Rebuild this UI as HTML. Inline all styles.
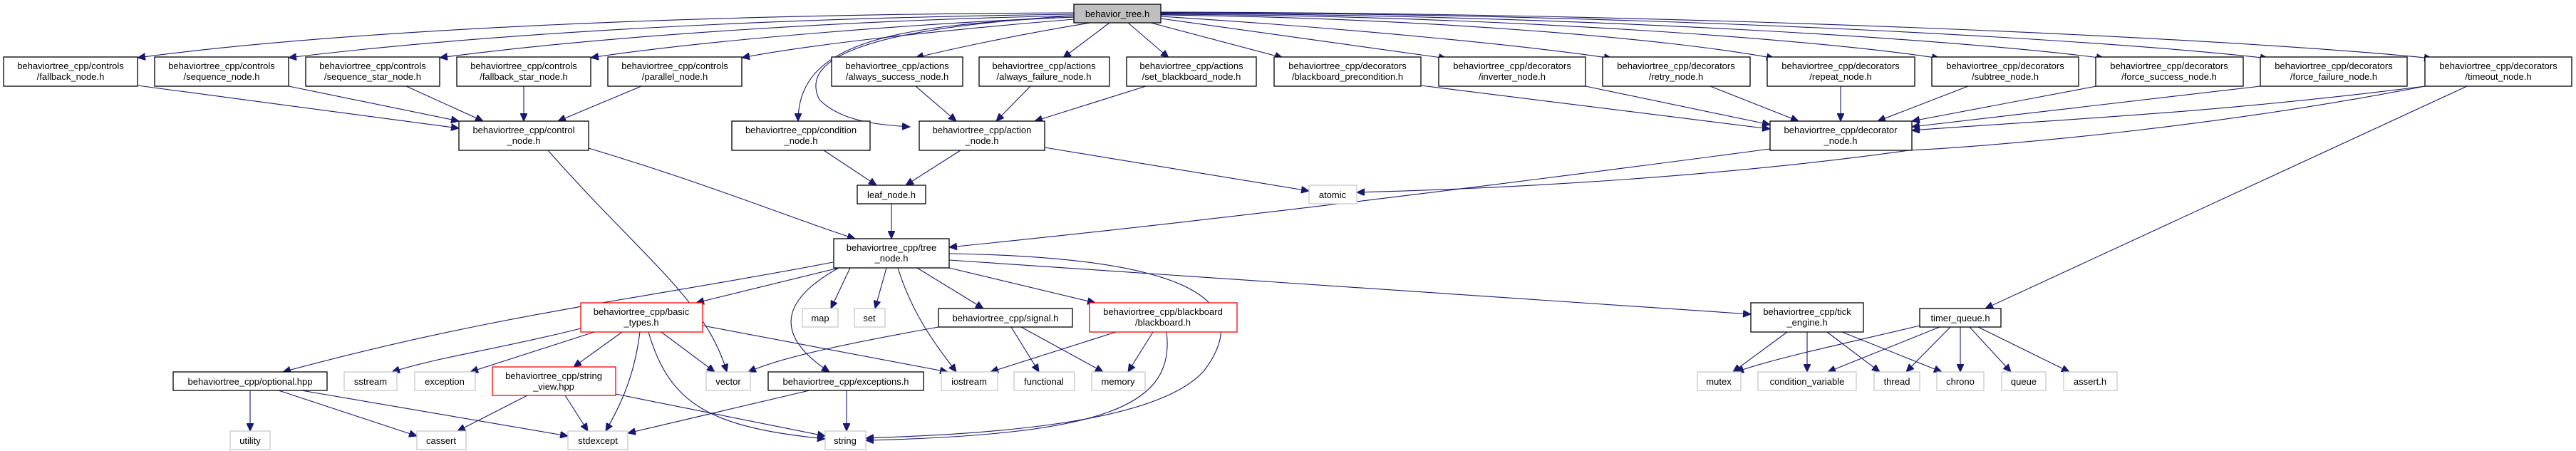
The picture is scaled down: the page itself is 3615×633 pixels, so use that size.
<!DOCTYPE html>
<html><head><meta charset="utf-8"><style>
html,body{margin:0;padding:0;background:#fff;}
svg{display:block;}
text{font-family:"Liberation Sans",sans-serif;font-size:13px;fill:#000;text-anchor:middle;}
.n{fill:#fff;stroke:#000;stroke-width:1.3;}
.g{fill:#fff;stroke:#c8c8c8;stroke-width:1.3;}
.r{fill:#fff;stroke:#ff0000;stroke-width:1.3;}
.e{fill:none;stroke:#191970;stroke-width:1.1;marker-end:url(#a);}
</style></head><body>
<svg width="3615" height="633" viewBox="0 0 3615 633" xmlns="http://www.w3.org/2000/svg">
<defs><marker id="a" markerUnits="userSpaceOnUse" markerWidth="12" markerHeight="10" refX="11" refY="5" orient="auto"><path d="M0,0 L11,5 L0,10 z" fill="#191970" stroke="#191970"/></marker></defs>

<!-- edges from behavior_tree.h -->
<path class="e" d="M1507,18 C1000,20 500,40 193,81"/>
<path class="e" d="M1507,20 C1100,25 700,45 405,81"/>
<path class="e" d="M1507,22 C1200,28 850,50 617,81"/>
<path class="e" d="M1507,24 C1300,32 1000,55 829,81"/>
<path class="e" d="M1507,27 C1350,40 1150,60 1041,81"/>
<path class="e" d="M1530,32 C1420,50 1330,70 1285,81"/>
<path class="e" d="M1557,32 L1492,81"/>
<path class="e" d="M1583,32 L1640,81"/>
<path class="e" d="M1615,32 L1800,81"/>
<path class="e" d="M1629,26 L2030,82"/>
<path class="e" d="M1629,23 C1900,40 2150,65 2262,82"/>
<path class="e" d="M1629,21 C2000,25 2350,55 2490,82"/>
<path class="e" d="M1629,20 C2100,22 2550,55 2722,82"/>
<path class="e" d="M1629,19 C2200,20 2750,55 2953,82"/>
<path class="e" d="M1629,18 C2300,18 2950,55 3183,82"/>
<path class="e" d="M1629,17 C2400,18 3150,55 3413,82"/>
<path class="e" d="M1507,24 C1250,35 1120,60 1120,170"/>
<path class="e" d="M1507,22 C1220,40 1120,80 1150,140 C1180,170 1230,175 1277,178"/>

<!-- top row to second row -->
<path class="e" d="M193,120 L644,180"/>
<path class="e" d="M405,121 L644,170"/>
<path class="e" d="M570,121 L678,170"/>
<path class="e" d="M735,121 L735,170"/>
<path class="e" d="M900,121 L783,170"/>
<path class="e" d="M1285,121 L1342,170"/>
<path class="e" d="M1446,121 L1398,170"/>
<path class="e" d="M1608,121 L1452,170"/>
<path class="e" d="M1994,120 L2484,181"/>
<path class="e" d="M2225,121 L2484,175"/>
<path class="e" d="M2400,121 L2524,170"/>
<path class="e" d="M2583,121 L2583,170"/>
<path class="e" d="M2762,121 L2635,170"/>
<path class="e" d="M2942,121 L2683,170"/>
<path class="e" d="M3172,121 L2683,178"/>
<path class="e" d="M3403,121 C3100,160 2850,170 2683,183"/>
<path class="e" d="M3403,121 C3100,180 2800,205 2679,211 C2400,250 2100,265 1904,270"/>
<path class="e" d="M3462,121 L2786,433"/>
<path class="e" d="M2484,209 C2100,260 1700,310 1332,347"/>

<!-- second row -->
<path class="e" d="M1348,211 L1271,260"/>
<path class="e" d="M1156,211 L1230,260"/>
<path class="e" d="M1466,207 L1837,268"/>
<path class="e" d="M1251,286 L1251,335"/>
<path class="e" d="M826,208 C1000,260 1120,310 1200,335"/>
<path class="e" d="M769,211 C900,360 990,420 1020,522"/>

<!-- tree_node -->
<path class="e" d="M1169,368 C900,420 700,440 397,522"/>
<path class="e" d="M1177,376 L977,425"/>
<path class="e" d="M1177,376 C1080,430 1100,480 1164,522"/>
<path class="e" d="M1193,376 L1166,433"/>
<path class="e" d="M1244,376 L1228,433"/>
<path class="e" d="M1260,376 C1280,440 1310,480 1342,522"/>
<path class="e" d="M1287,376 L1380,433"/>
<path class="e" d="M1332,376 L1537,425"/>
<path class="e" d="M1332,356 C1600,360 1780,400 1690,520 C1620,600 1350,610 1215,615"/>
<path class="e" d="M1332,365 L2457,441"/>

<!-- basic_types -->
<path class="e" d="M815,461 C700,490 620,500 550,522"/>
<path class="e" d="M834,466 L660,522"/>
<path class="e" d="M873,466 L805,515"/>
<path class="e" d="M898,466 C890,530 870,570 850,605"/>
<path class="e" d="M910,466 C940,570 1000,600 1158,616"/>
<path class="e" d="M928,466 L1003,522"/>
<path class="e" d="M986,457 L1330,522"/>

<!-- string_view / optional / exceptions -->
<path class="e" d="M740,555 L642,605"/>
<path class="e" d="M793,555 L825,605"/>
<path class="e" d="M864,553 L1158,612"/>
<path class="e" d="M351,548 L351,605"/>
<path class="e" d="M391,548 L585,612"/>
<path class="e" d="M423,548 L797,612"/>
<path class="e" d="M1188,548 L1188,605"/>
<path class="e" d="M1136,548 L881,608"/>

<!-- signal / blackboard -->
<path class="e" d="M1317,459 C1200,480 1100,500 1050,522"/>
<path class="e" d="M1419,459 L1458,522"/>
<path class="e" d="M1433,459 L1548,522"/>
<path class="e" d="M1566,466 L1390,522"/>
<path class="e" d="M1618,466 L1583,522"/>
<path class="e" d="M1637,466 C1650,570 1550,610 1215,618"/>

<!-- tick_engine / timer_queue -->
<path class="e" d="M2508,466 L2432,522"/>
<path class="e" d="M2536,466 L2536,522"/>
<path class="e" d="M2564,466 L2638,522"/>
<path class="e" d="M2585,466 L2725,522"/>
<path class="e" d="M2694,457 C2600,480 2500,500 2436,522"/>
<path class="e" d="M2722,459 L2565,522"/>
<path class="e" d="M2737,459 L2675,522"/>
<path class="e" d="M2751,459 L2751,522"/>
<path class="e" d="M2764,459 L2822,522"/>
<path class="e" d="M2776,459 L2904,522"/>

<!-- nodes -->
<rect x="1507" y="6" width="122" height="26" fill="#bfbfbf" stroke="#000" stroke-width="1.3"/><text x="1568" y="24">behavior_tree.h</text>

<rect class="n" x="5" y="80" width="188" height="41"/><text x="99" y="97">behaviortree_cpp/controls</text><text x="99" y="112">/fallback_node.h</text>
<rect class="n" x="217" y="80" width="188" height="41"/><text x="311" y="97">behaviortree_cpp/controls</text><text x="311" y="112">/sequence_node.h</text>
<rect class="n" x="429" y="80" width="188" height="41"/><text x="523" y="97">behaviortree_cpp/controls</text><text x="523" y="112">/sequence_star_node.h</text>
<rect class="n" x="641" y="80" width="188" height="41"/><text x="735" y="97">behaviortree_cpp/controls</text><text x="735" y="112">/fallback_star_node.h</text>
<rect class="n" x="853" y="80" width="188" height="41"/><text x="947" y="97">behaviortree_cpp/controls</text><text x="947" y="112">/parallel_node.h</text>
<rect class="n" x="1167" y="80" width="184" height="41"/><text x="1259" y="97">behaviortree_cpp/actions</text><text x="1259" y="112">/always_success_node.h</text>
<rect class="n" x="1374" y="80" width="183" height="41"/><text x="1465" y="97">behaviortree_cpp/actions</text><text x="1465" y="112">/always_failure_node.h</text>
<rect class="n" x="1581" y="80" width="182" height="41"/><text x="1672" y="97">behaviortree_cpp/actions</text><text x="1672" y="112">/set_blackboard_node.h</text>
<rect class="n" x="1788" y="80" width="206" height="41"/><text x="1891" y="97">behaviortree_cpp/decorators</text><text x="1891" y="112">/blackboard_precondition.h</text>
<rect class="n" x="2019" y="80" width="206" height="41"/><text x="2122" y="97">behaviortree_cpp/decorators</text><text x="2122" y="112">/inverter_node.h</text>
<rect class="n" x="2249" y="80" width="207" height="41"/><text x="2352" y="97">behaviortree_cpp/decorators</text><text x="2352" y="112">/retry_node.h</text>
<rect class="n" x="2480" y="80" width="207" height="41"/><text x="2583" y="97">behaviortree_cpp/decorators</text><text x="2583" y="112">/repeat_node.h</text>
<rect class="n" x="2711" y="80" width="206" height="41"/><text x="2814" y="97">behaviortree_cpp/decorators</text><text x="2814" y="112">/subtree_node.h</text>
<rect class="n" x="2941" y="80" width="207" height="41"/><text x="3044" y="97">behaviortree_cpp/decorators</text><text x="3044" y="112">/force_success_node.h</text>
<rect class="n" x="3172" y="80" width="206" height="41"/><text x="3275" y="97">behaviortree_cpp/decorators</text><text x="3275" y="112">/force_failure_node.h</text>
<rect class="n" x="3403" y="80" width="206" height="41"/><text x="3506" y="97">behaviortree_cpp/decorators</text><text x="3506" y="112">/timeout_node.h</text>

<rect class="n" x="644" y="170" width="182" height="41"/><text x="735" y="187">behaviortree_cpp/control</text><text x="735" y="202">_node.h</text>
<rect class="n" x="1027" y="170" width="194" height="41"/><text x="1124" y="187">behaviortree_cpp/condition</text><text x="1124" y="202">_node.h</text>
<rect class="n" x="1290" y="170" width="176" height="41"/><text x="1378" y="187">behaviortree_cpp/action</text><text x="1378" y="202">_node.h</text>
<rect class="n" x="2484" y="170" width="199" height="41"/><text x="2583" y="187">behaviortree_cpp/decorator</text><text x="2583" y="202">_node.h</text>

<rect class="n" x="1203" y="260" width="96" height="26"/><text x="1251" y="278">leaf_node.h</text>
<rect class="g" x="1837" y="260" width="67" height="26"/><text x="1870" y="278">atomic</text>

<rect class="n" x="1170" y="335" width="162" height="41"/><text x="1251" y="352">behaviortree_cpp/tree</text><text x="1251" y="367">_node.h</text>

<rect class="r" x="815" y="425" width="171" height="41"/><text x="900" y="442">behaviortree_cpp/basic</text><text x="900" y="457">_types.h</text>
<rect class="g" x="1126" y="433" width="50" height="26"/><text x="1151" y="451">map</text>
<rect class="g" x="1199" y="433" width="43" height="26"/><text x="1220" y="451">set</text>
<rect class="n" x="1317" y="433" width="188" height="26"/><text x="1411" y="451">behaviortree_cpp/signal.h</text>
<rect class="r" x="1529" y="425" width="207" height="41"/><text x="1632" y="442">behaviortree_cpp/blackboard</text><text x="1632" y="457">/blackboard.h</text>
<rect class="n" x="2457" y="425" width="158" height="41"/><text x="2536" y="442">behaviortree_cpp/tick</text><text x="2536" y="457">_engine.h</text>
<rect class="n" x="2694" y="433" width="114" height="26"/><text x="2751" y="451">timer_queue.h</text>

<rect class="n" x="243" y="522" width="216" height="26"/><text x="351" y="540">behaviortree_cpp/optional.hpp</text>
<rect class="g" x="483" y="522" width="74" height="26"/><text x="520" y="540">sstream</text>
<rect class="g" x="582" y="522" width="85" height="26"/><text x="624" y="540">exception</text>
<rect class="r" x="691" y="515" width="173" height="40"/><text x="777" y="532">behaviortree_cpp/string</text><text x="777" y="547">_view.hpp</text>
<rect class="g" x="991" y="522" width="62" height="26"/><text x="1022" y="540">vector</text>
<rect class="n" x="1078" y="522" width="218" height="26"/><text x="1187" y="540">behaviortree_cpp/exceptions.h</text>
<rect class="g" x="1321" y="522" width="79" height="26"/><text x="1360" y="540">iostream</text>
<rect class="g" x="1423" y="522" width="85" height="26"/><text x="1465" y="540">functional</text>
<rect class="g" x="1532" y="522" width="75" height="26"/><text x="1569" y="540">memory</text>
<rect class="g" x="2382" y="522" width="61" height="26"/><text x="2412" y="540">mutex</text>
<rect class="g" x="2467" y="522" width="138" height="26"/><text x="2536" y="540">condition_variable</text>
<rect class="g" x="2630" y="522" width="64" height="26"/><text x="2662" y="540">thread</text>
<rect class="g" x="2718" y="522" width="66" height="26"/><text x="2751" y="540">chrono</text>
<rect class="g" x="2809" y="522" width="62" height="26"/><text x="2840" y="540">queue</text>
<rect class="g" x="2896" y="522" width="75" height="26"/><text x="2933" y="540">assert.h</text>

<rect class="g" x="323" y="605" width="56" height="26"/><text x="351" y="623">utility</text>
<rect class="g" x="585" y="605" width="69" height="26"/><text x="619" y="623">cassert</text>
<rect class="g" x="797" y="605" width="84" height="26"/><text x="839" y="623">stdexcept</text>
<rect class="g" x="1158" y="605" width="57" height="26"/><text x="1186" y="623">string</text>
</svg>
</body></html>
